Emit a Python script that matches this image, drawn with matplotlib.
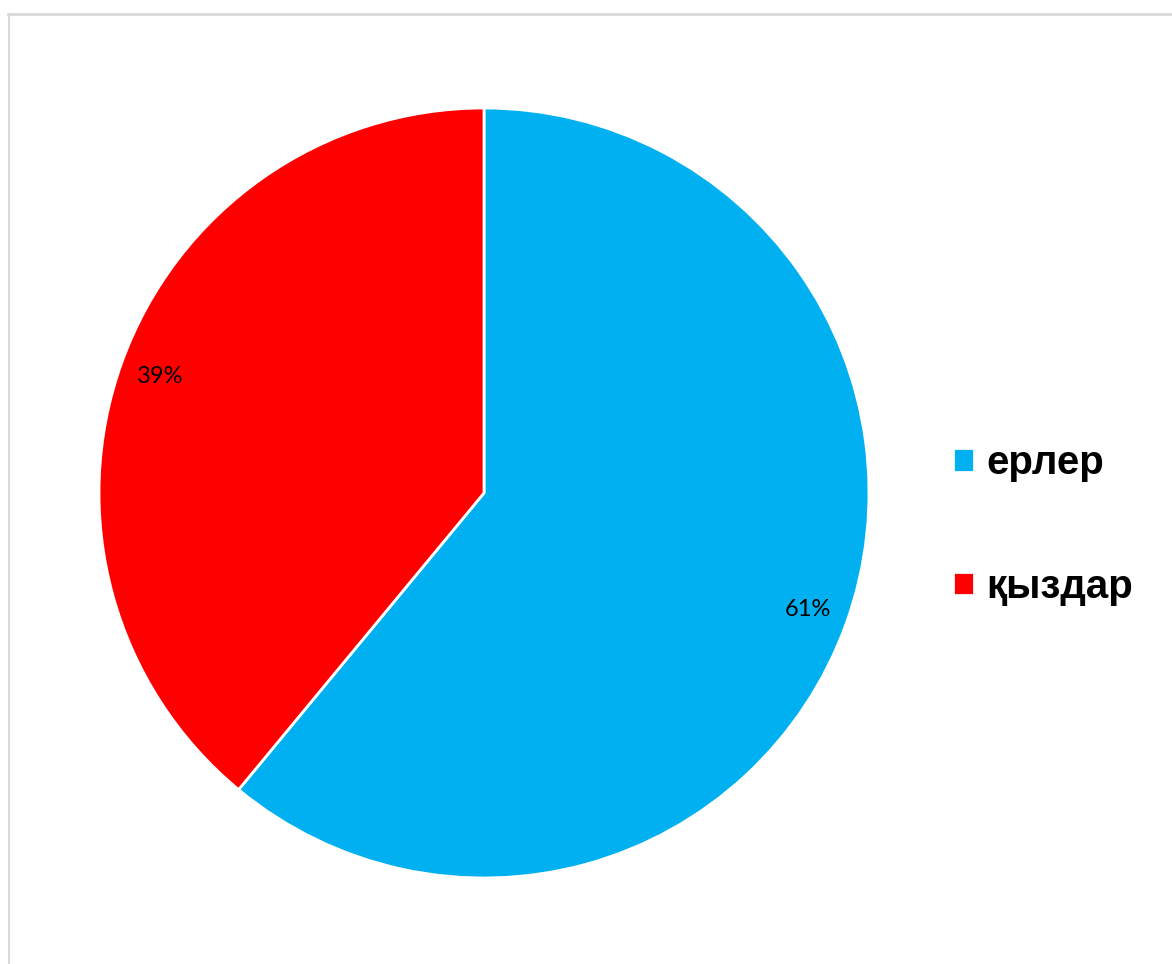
import matplotlib.pyplot as plt
from matplotlib.lines import Line2D

labels = ["ерлер", "қыздар"]
shares = [61, 39]
colors = ["#00B0F0", "#FF0000"]

fig = plt.figure(figsize=(11.72, 9.64), dpi=100)
fig.patch.set_facecolor("white")

# pie area: square axes, circle centred around (484, 493) px
ax = fig.add_axes([99 / 1172, 86 / 964, 770 / 1172, 770 / 964])
wedges, texts, autotexts = ax.pie(
    shares,
    colors=colors,
    startangle=90,
    counterclock=False,
    radius=1,
    autopct="%d%%",
    pctdistance=0.895,
    wedgeprops=dict(edgecolor="white", linewidth=2),
    textprops=dict(fontsize=17, family="Lato", color="black"),
)
ax.set_xlim(-1.0, 1.0)
ax.set_ylim(-1.0, 1.0)
ax.set_aspect("equal")
ax.axis("off")

fig.legend(
    wedges, labels,
    loc="center left",
    bbox_to_anchor=(953 / 1172, 1 - 525 / 964),
    frameon=False,
    handlelength=0.53,
    handleheight=0.53,
    handletextpad=0.3,
    labelspacing=2.12,
    borderpad=0,
    borderaxespad=0,
    prop=dict(family="Liberation Sans", weight="bold", size=29),
)

# light grey frame lines along top and left
fig.add_artist(Line2D([8 / 1172, 1], [1 - 13.5 / 964, 1 - 13.5 / 964],
                      color="#d9d9d9", linewidth=2, transform=fig.transFigure))
fig.add_artist(Line2D([8.5 / 1172, 8.5 / 1172], [0, 1 - 13.5 / 964],
                      color="#d9d9d9", linewidth=1.5, transform=fig.transFigure))

fig.savefig("out.png", dpi=100)
